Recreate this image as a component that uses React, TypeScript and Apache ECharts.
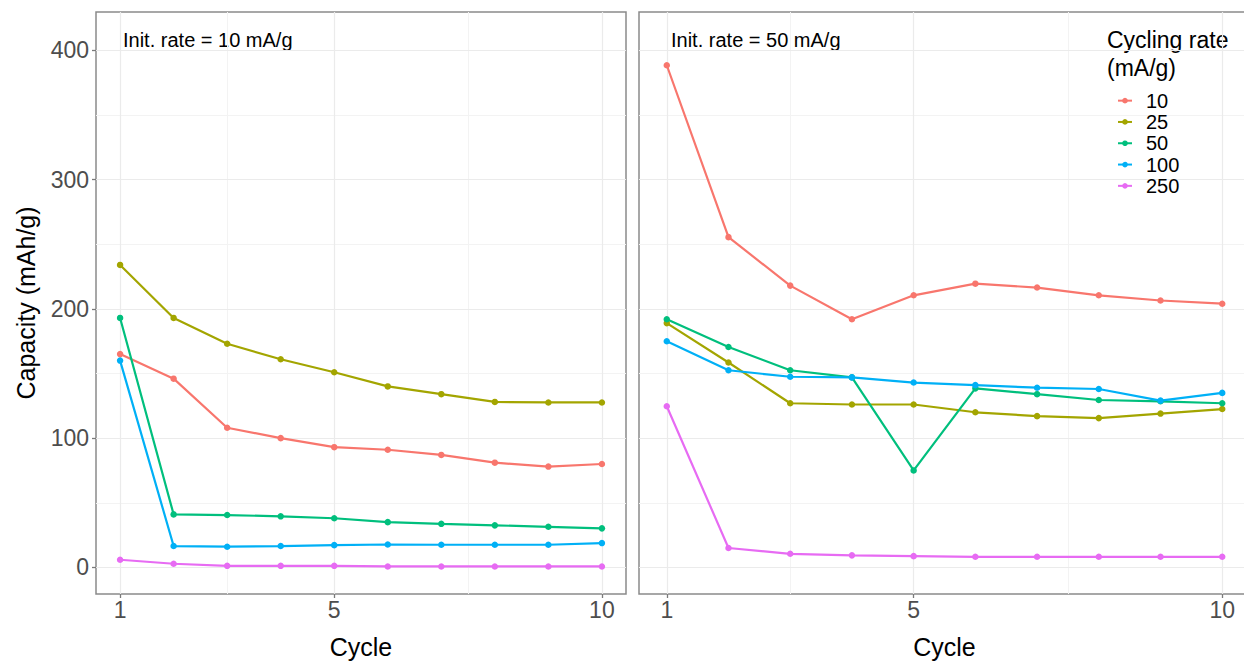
import React, { useEffect, useRef } from "react";
import * as echarts from "echarts";

// Cycle numbers shared by every curve
const cycles = [1, 2, 3, 4, 5, 6, 7, 8, 9, 10];

// Cycling rates (mA/g) and their colours
const rateNames = ["10", "25", "50", "100", "250"];
const rateColors = ["#F8766D", "#A3A500", "#00BF7D", "#00B0F6", "#E76BF3"];

// Initial rate = 10 mA/g: capacity (mAh/g) per cycle
const init10_rate10 = [165, 146, 108, 100, 93, 91, 87, 81, 78, 80];
const init10_rate25 = [234, 193, 173, 161, 151, 140, 134, 128, 127.6, 127.6];
const init10_rate50 = [193, 41, 40.5, 39.5, 38, 35, 33.7, 32.5, 31.4, 30.2];
const init10_rate100 = [160, 16.5, 16, 16.5, 17.2, 17.7, 17.5, 17.5, 17.5, 18.8];
const init10_rate250 = [5.9, 2.8, 1.2, 1.2, 1.2, 0.7, 0.7, 0.7, 0.7, 0.7];

// Initial rate = 50 mA/g: capacity (mAh/g) per cycle
const init50_rate10 = [388.5, 255.5, 218, 192, 210.5, 219.5, 216.5, 210.5, 206.5, 204];
const init50_rate25 = [189, 158.5, 127, 126, 126, 120, 117, 115.5, 119, 122.5];
const init50_rate50 = [192, 170.5, 152.5, 147, 75, 138.5, 134, 129.5, 128.5, 127];
const init50_rate100 = [175, 152.5, 147.5, 147, 143, 141, 139, 138, 129, 135];
const init50_rate250 = [124.7, 15, 10.5, 9.3, 8.7, 8.2, 8.2, 8.2, 8.2, 8.2];

// Panel labels
const panelLabels = ["Init. rate = 10 mA/g", "Init. rate = 50 mA/g"];

// Axis breaks
const xMajor = [1, 5, 10];
const xMinor = [3, 7.5];
const yMajor = [0, 100, 200, 300, 400];
const yMinor = [50, 150, 250, 350];

const FONT = "'Liberation Sans', Arial, Helvetica, sans-serif";

const panels = [
  [init10_rate10, init10_rate25, init10_rate50, init10_rate100, init10_rate250],
  [init50_rate10, init50_rate25, init50_rate50, init50_rate100, init50_rate250],
];

export default function App() {
  const ref = useRef<HTMLDivElement>(null);

  useEffect(() => {
    if (!ref.current) return;
    const chart = echarts.init(ref.current, undefined, { renderer: "svg" });

    // The second panel runs past the right edge of the canvas
    const grids = [
      { left: 96, top: 12, width: 530, height: 582 },
      { left: 639, top: 12, width: 611, height: 582 },
    ].map((g) => ({
      ...g,
      show: true,
      backgroundColor: "transparent",
      borderColor: "#8a8a8a",
      borderWidth: 1.5,
      containLabel: false,
      outerBoundsMode: "none",
    }));

    const xAxes = [0, 1].map((i) => ({
      gridIndex: i,
      type: "value",
      min: 0.55,
      max: 10.45,
      position: "bottom",
      axisLine: { show: false, onZero: false },
      axisTick: {
        show: true,
        length: 4,
        customValues: xMajor,
        lineStyle: { color: "#7a7a7a", width: 1.3 },
      },
      axisLabel: {
        customValues: xMajor,
        fontSize: 23,
        color: "#4D4D4D",
        margin: 4,
        fontFamily: FONT,
      },
      splitLine: { show: false },
      name: "Cycle",
      nameLocation: "middle",
      nameGap: 40,
      nameTextStyle: { fontSize: 25, color: "#000", fontFamily: FONT },
    }));

    const yAxes = [0, 1].map((i) => ({
      gridIndex: i,
      type: "value",
      min: -20.6,
      max: 429.7,
      position: "left",
      axisLine: { show: false, onZero: false },
      axisTick: {
        show: i === 0,
        length: 4,
        customValues: yMajor,
        lineStyle: { color: "#7a7a7a", width: 1.3 },
      },
      axisLabel: {
        show: i === 0,
        customValues: yMajor,
        fontSize: 23,
        color: "#4D4D4D",
        margin: 7,
        fontFamily: FONT,
      },
      splitLine: { show: false },
      name: i === 0 ? "Capacity (mAh/g)" : "",
      nameLocation: "middle",
      nameRotate: 90,
      nameGap: 58,
      nameTextStyle: { fontSize: 25, color: "#000", fontFamily: FONT },
    }));

    // Background grid lines drawn as mark lines on an empty series per panel
    const gridLineSeries = [0, 1].map((i) => ({
      type: "line",
      name: "grid" + i,
      xAxisIndex: i,
      yAxisIndex: i,
      data: [],
      silent: true,
      z: 0,
      markLine: {
        silent: true,
        symbol: ["none", "none"],
        label: { show: false },
        z: 0,
        data: [
          ...yMinor.map((v) => ({ yAxis: v, lineStyle: { color: "#f3f3f3", width: 1, type: "solid" } })),
          ...xMinor.map((v) => ({ xAxis: v, lineStyle: { color: "#f3f3f3", width: 1, type: "solid" } })),
          ...yMajor.map((v) => ({ yAxis: v, lineStyle: { color: "#ebebeb", width: 1.2, type: "solid" } })),
          ...xMajor.map((v) => ({ xAxis: v, lineStyle: { color: "#ebebeb", width: 1.2, type: "solid" } })),
        ],
      },
    }));

    const dataSeries: any[] = [];
    panels.forEach((panel, i) => {
      panel.forEach((values, k) => {
        dataSeries.push({
          type: "line",
          name: rateNames[k],
          xAxisIndex: i,
          yAxisIndex: i,
          data: cycles.map((c, j) => [c, values[j]]),
          symbol: "circle",
          symbolSize: 6.5,
          showSymbol: true,
          z: 3,
          lineStyle: { color: rateColors[k], width: 2.2 },
          itemStyle: { color: rateColors[k] },
          silent: true,
        });
      });
    });

    chart.setOption({
      animation: false,
      textStyle: { fontFamily: FONT },
      grid: grids,
      xAxis: xAxes,
      yAxis: yAxes,
      legend: {
        data: rateNames,
        orient: "vertical",
        left: 1112,
        top: 85,
        itemWidth: 14,
        itemHeight: 7,
        itemGap: 0,
        selectedMode: false,
        textStyle: {
          fontSize: 20,
          lineHeight: 21.3,
          color: "#000",
          fontFamily: FONT,
          padding: [0, 0, 0, 9],
        },
      },
      graphic: [
        {
          type: "text",
          left: 123,
          top: 30,
          silent: true,
          style: { text: panelLabels[0], fill: "#000", font: `20px ${FONT}` },
        },
        {
          type: "text",
          left: 671,
          top: 30,
          silent: true,
          style: { text: panelLabels[1], fill: "#000", font: `20px ${FONT}` },
        },
        {
          type: "text",
          left: 1107,
          top: 26,
          silent: true,
          style: {
            text: "Cycling rate\n(mA/g)",
            fill: "#000",
            font: `23px ${FONT}`,
            lineHeight: 28,
          },
        },
      ],
      series: [...gridLineSeries, ...dataSeries],
    });

    return () => chart.dispose();
  }, []);

  return (
    <div
      style={{
        position: "fixed",
        left: 0,
        top: 0,
        width: 1244,
        height: 663,
        overflow: "hidden",
        background: "#fff",
      }}
    >
      <div ref={ref} style={{ width: 1244, height: 663 }} />
    </div>
  );
}
